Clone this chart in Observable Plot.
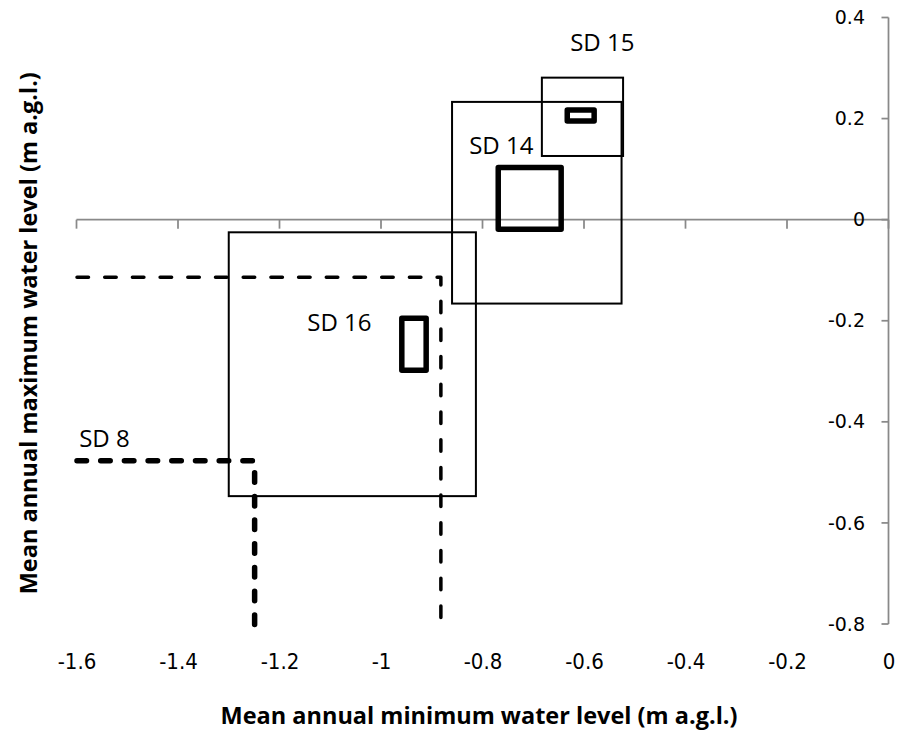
<!DOCTYPE html>
<html>
<head>
<meta charset="utf-8">
<script src="https://cdn.jsdelivr.net/npm/d3@7"></script>
<script src="https://cdn.jsdelivr.net/npm/@observablehq/plot@0.6"></script>
<style>
  html, body { margin: 0; padding: 0; background: #ffffff; }
  #chart svg { display: block; }
</style>
</head>
<body>
<div id="chart"></div>
<script>
// Mean annual minimum (x) and maximum (y) water level, m a.g.l.
// Thin rectangles: full range per site; thick rectangles: core range.
const sites      = ["SD 14", "SD 15", "SD 16"];
const rangeMinLo = [-0.860, -0.683, -1.300];
const rangeMinHi = [-0.526, -0.523, -0.813];
const rangeMaxLo = [-0.166,  0.126, -0.547];
const rangeMaxHi = [ 0.233,  0.281, -0.025];
const coreMinLo  = [-0.769, -0.633, -0.959];
const coreMinHi  = [-0.645, -0.580, -0.911];
const coreMaxLo  = [-0.019,  0.195, -0.298];
const coreMaxHi  = [ 0.103,  0.217, -0.195];

// SD 8 extends below the axis limits: only its upper bounds are drawn.
const sd8RangeUpper = {min: -0.883, max: -0.113};
const sd8CoreUpper  = {min: -1.250, max: -0.476};

// Site label anchors
const labelText = ["SD 15", "SD 14", "SD 16", "SD 8"];
const labelX    = [-0.565, -0.764, -1.083, -1.546];
const labelY    = [ 0.349,  0.147, -0.205, -0.433];

// Axes
const xDomain = [-1.6, 0];
const yDomain = [-0.8, 0.4];
const xTicks = [-1.6, -1.4, -1.2, -1, -0.8, -0.6, -0.4, -0.2, 0];
const xTickLabels = ["-1.6", "-1.4", "-1.2", "-1", "-0.8", "-0.6", "-0.4", "-0.2", "0"];
const yTicks = [0.4, 0.2, 0, -0.2, -0.4, -0.6, -0.8];
const yTickLabels = ["0.4", "0.2", "0", "-0.2", "-0.4", "-0.6", "-0.8"];
const xTitle = "Mean annual minimum water level (m a.g.l.)";
const yTitle = "Mean annual maximum water level (m a.g.l.)";

const axisGray = "#898989";
const narrowFont = "'Liberation Sans Narrow', 'DejaVu Sans Condensed', 'Open Sans', sans-serif";

const rangeRows = sites.map((s, i) => ({site: s, x1: rangeMinLo[i], x2: rangeMinHi[i], y1: rangeMaxLo[i], y2: rangeMaxHi[i]}));
const coreRows  = sites.map((s, i) => ({site: s, x1: coreMinLo[i],  x2: coreMinHi[i],  y1: coreMaxLo[i],  y2: coreMaxHi[i]}));
const labelRows = labelText.map((t, i) => ({text: t, x: labelX[i], y: labelY[i]}));

// Open corner: from the left limit along the upper max bound, then down to the lower limit.
const openCorner = (b) => [
  {x: xDomain[0], y: b.max},
  {x: b.min, y: b.max},
  {x: b.min, y: yDomain[0]}
];

// Axis lines crossing at the origin, with tick marks, drawn through the plot scales.
function originAxes(index, {x, y}) {
  const g = d3.create("svg:g")
    .attr("stroke", axisGray)
    .attr("stroke-width", 1.75)
    .attr("fill", "none");
  const y0 = y(0), x0 = x(0);
  g.append("line").attr("x1", x(xDomain[0])).attr("x2", x(xDomain[1])).attr("y1", y0).attr("y2", y0);
  for (const t of xTicks) {
    g.append("line").attr("x1", x(t)).attr("x2", x(t)).attr("y1", y0).attr("y2", y0 + 9);
  }
  g.append("line").attr("x1", x0).attr("x2", x0).attr("y1", y(yDomain[0])).attr("y2", y(yDomain[1]));
  for (const t of yTicks) {
    g.append("line").attr("x1", x0 - 7).attr("x2", x0).attr("y1", y(t)).attr("y2", y(t));
  }
  return g.node();
}

const chart = Plot.plot({
  width: 899,
  height: 740,
  marginLeft: 76.5,
  marginRight: 10.5,
  marginTop: 17.5,
  marginBottom: 116,
  style: {background: "#ffffff", color: "#000000", overflow: "visible"},
  x: {domain: xDomain},
  y: {domain: yDomain},
  marks: [
    originAxes,
    Plot.axisX(xTicks, {
      anchor: "bottom", tickSize: 0, tickPadding: 29, label: null,
      tickFormat: (d) => xTickLabels[xTicks.indexOf(d)],
      fontSize: 22, fontFamily: narrowFont, fill: "#000000"
    }),
    Plot.axisY(yTicks, {
      anchor: "right", tickSize: 0, tickPadding: -24, textAnchor: "end", label: null,
      tickFormat: (d) => yTickLabels[yTicks.indexOf(d)],
      fontSize: 19, fontFamily: "'DejaVu Sans', sans-serif", fill: "#000000"
    }),
    Plot.line(openCorner(sd8RangeUpper), {
      x: "x", y: "y", stroke: "#000000", strokeWidth: 3.5,
      strokeDasharray: "11.5 16.2", strokeLinecap: "round", strokeLinejoin: "round"
    }),
    Plot.line(openCorner(sd8CoreUpper), {
      x: "x", y: "y", stroke: "#000000", strokeWidth: 5.5,
      strokeDasharray: "9.5 14.2", strokeLinecap: "round", strokeLinejoin: "round"
    }),
    Plot.rect(rangeRows, {x1: "x1", x2: "x2", y1: "y1", y2: "y2", fill: "none", stroke: "#000000", strokeWidth: 2}),
    Plot.rect(coreRows, {x1: "x1", x2: "x2", y1: "y1", y2: "y2", fill: "none", stroke: "#000000", strokeWidth: 5.5, strokeLinejoin: "round"}),
    Plot.text(labelRows, {
      x: "x", y: "y", text: "text", fontSize: 24,
      fontFamily: "'Open Sans', sans-serif", fill: "#000000"
    }),
    Plot.text([xTitle], {
      frameAnchor: "bottom", dy: 92, dx: -4, text: (d) => d,
      textAnchor: "middle", lineAnchor: "middle",
      fontSize: 23.5, fontWeight: "bold", fontFamily: "'Open Sans', sans-serif", fill: "#000000"
    }),
    Plot.text([yTitle], {
      frameAnchor: "left", rotate: -90, dx: -48, dy: 12, text: (d) => d,
      textAnchor: "middle", lineAnchor: "middle",
      fontSize: 23.5, fontWeight: "bold", fontFamily: "'Open Sans', sans-serif", fill: "#000000"
    })
  ]
});

document.getElementById("chart").appendChild(chart);
</script>
</body>
</html>
